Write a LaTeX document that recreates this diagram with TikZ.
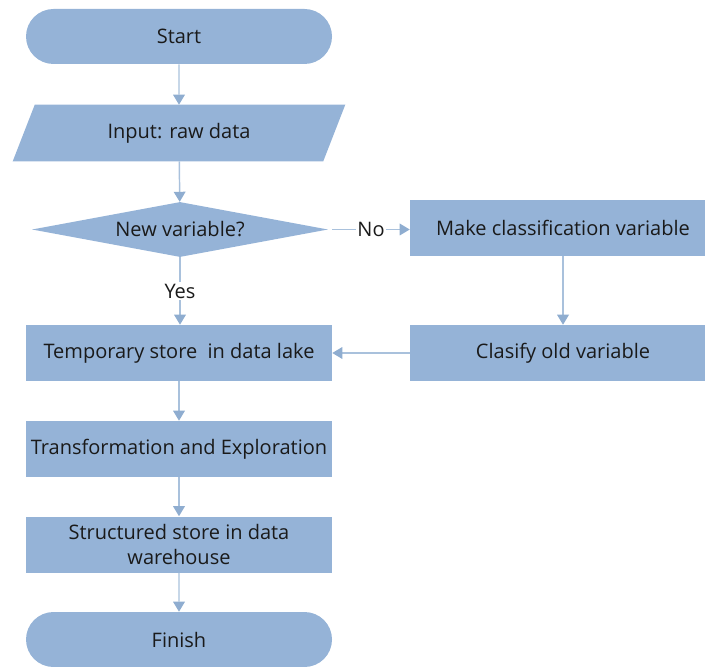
\documentclass[tikz,border=0pt]{standalone}
\usepackage{fontspec}
\setmainfont{Open Sans}
\usetikzlibrary{shapes.geometric,shapes.misc,arrows.meta,backgrounds}
\definecolor{boxfill}{HTML}{95B3D7}
\definecolor{linecol}{HTML}{A9C1DC}
\definecolor{headcol}{HTML}{8FADD0}
\definecolor{txt}{HTML}{1A1A1A}
\begin{document}
\begin{tikzpicture}[x=0.75pt,y=-0.75pt,
  every node/.style={font=\fontsize{15}{18.75}\selectfont, text=txt},
  terminal/.style={rounded rectangle, fill=boxfill, minimum width=229.5pt, minimum height=41.25pt, inner sep=0pt},
  procbox/.style={rectangle, fill=boxfill, minimum width=229.5pt, minimum height=42pt, inner sep=1pt, align=center},
  inputbox/.style={rectangle, minimum width=232.5pt, minimum height=42pt, inner sep=0pt},
  decision/.style={diamond, fill=boxfill, aspect=5.4, minimum width=222pt, minimum height=41.25pt, inner sep=0pt},
  flow/.style={draw=linecol, line width=1.1pt, -{Triangle[width=9pt,length=7.5pt,color=headcol,fill=headcol,line width=0pt]}},
  tag/.style={fill=white, inner sep=1pt}
]
\useasboundingbox (0,0) rectangle (705,666);
\clip (0,0) rectangle (705,666);

\node[terminal] (start) at (179,36.5) {Start};
\node[inputbox] (input) at (179,133) {Input: raw data};
\begin{scope}[on background layer]
  \fill[boxfill] ([xshift=8.25pt]input.north west) -- ([xshift=8.25pt]input.north east)
    -- ([xshift=-8.25pt]input.south east) -- ([xshift=-8.25pt]input.south west) -- cycle;
\end{scope}
\node[decision] (decide) at (180,229.5) {New variable?};
\node[procbox] (make) at (563,228) {Make classification variable};
\node[procbox] (clasify) at (563,353) {Clasify old variable};
\node[procbox] (temp) at (179,353) {Temporary store\ \ in data lake};
\node[procbox] (trans) at (179,449) {Transformation and Exploration};
\node[procbox] (struct) at (179,544.5) {Structured store in data\\warehouse};
\node[terminal] (finish) at (179,639.5) {Finish};

\draw[flow] (start) -- (input);
\draw[flow] (input) -- (decide);
\draw[flow] (decide.south) -- node[tag, pos=0.5] {Yes} (temp.north -| decide.south);
\draw[flow] ([xshift=3pt]decide.east) -- node[tag, pos=0.5] {No} (make.west |- decide.east);
\draw[flow] (make) -- (clasify);
\draw[flow] (clasify) -- (temp);
\draw[flow] (temp) -- (trans);
\draw[flow] (trans) -- (struct);
\draw[flow] (struct) -- (finish);
\end{tikzpicture}
\end{document}
